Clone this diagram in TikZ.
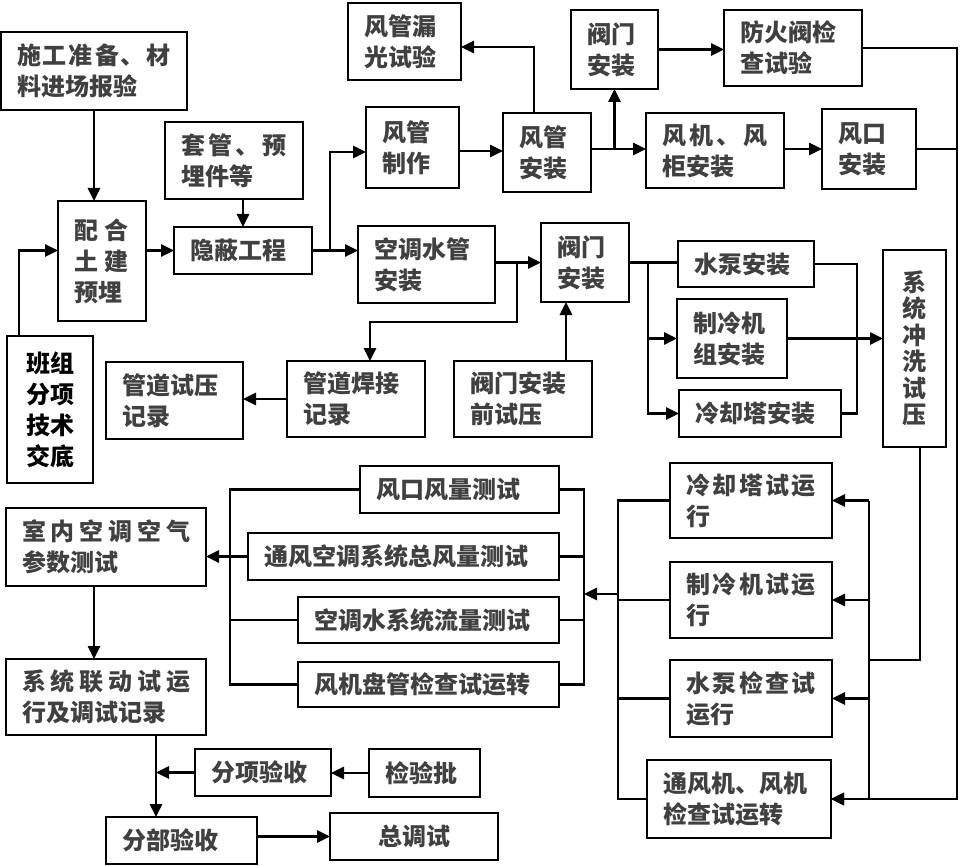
\documentclass[tikz,border=0pt]{standalone}
\usepackage{fontspec}
\newfontfamily\cjk{Noto Sans CJK SC}
\usetikzlibrary{arrows.meta}
\definecolor{tc}{RGB}{64,64,64}
\tikzset{
 box/.style={draw=black, line width=2.6pt, fill=white, inner xsep=16pt, inner ysep=0pt, outer sep=0pt, align=left, font=\cjk\bfseries\fontsize{24}{31}\selectfont, text=tc},
 ln/.style={line width=2.6pt},
 arr/.style={ln, -{Triangle[length=13pt,width=12pt]}},
}
\newcommand\bx[7][]{%
 \pgfmathsetmacro\bw{#5-#3}\pgfmathsetmacro\bh{#6-#4}\pgfmathsetmacro\tw{#5-#3-32}%
 \node[box, minimum width=\bw pt, minimum height=\bh pt, text width=\tw pt, #1] (#2) at ({(#3+#5)/2},{(#4+#6)/2}) {#7};}
\begin{document}
\begin{tikzpicture}[x=1pt,y=-1pt]
\useasboundingbox[fill=white] (0,0) rectangle (960,866);
% boxes
\bx{prep}{1}{32}{187}{110}{施\hfill{}工\hfill{}准\hfill{}备\hfill{}、\hfill{}材\\料进场报验}
\bx{leak}{348}{3}{461}{80}{风管漏\\光试验}
\bx{make}{366}{107}{459}{188}{风管\\制作}
\bx{sleeve}{165}{122}{303}{199}{套\hfill{}管\hfill{}、\hfill{}预\\埋件等}
\bx{civil}{58}{201}{146}{321}{配\hspace{6pt}合\\土\hspace{6pt}建\\预埋}
\bx{hidden}{174}{227}{312}{274}{隐蔽工程}
\bx{wpipe}{358}{226}{495}{303}{空调水管\\安装}
\bx{valve1}{571}{10}{658}{89}{阀门\\安装}
\bx{fire}{724}{10}{862}{86}{防火阀检\\查试验}
\bx{duct}{503}{113}{591}{192}{风管\\安装}
\bx{fan}{646}{113}{784}{188}{风\hfill{}机\hfill{}、\hfill{}风\\柜安装}
\bx{outlet}{822}{109}{916}{189}{风口\\安装}
\bx{valve2}{541}{223}{629}{302}{阀门\\安装}
\bx{pump}{678}{241}{814}{287}{水泵安装}
\bx{chiller}{677}{299}{787}{378}{制冷机\\组安装}
\bx{tower}{679}{390}{841}{437}{冷却塔安装}
\bx[align=center,font=\cjk\bfseries\fontsize{24}{26.5}\selectfont]{flush}{883}{250}{946}{447}{系\\统\\冲\\洗\\试\\压}
\bx[align=center,text=black]{team}{7}{336}{93}{483}{班组\\分项\\技术\\交底}
\bx{presrec}{106}{362}{243}{439}{管道试压\\记录}
\bx{weld}{287}{361}{425}{437}{管道焊接\\记录}
\bx{vtest}{454}{361}{592}{437}{阀门安装\\前试压}
\bx{ttower}{670}{463}{832}{538}{冷\hfill{}却\hfill{}塔\hfill{}试\hfill{}运\\行}
\bx{tchill}{670}{562}{832}{638}{制\hfill{}冷\hfill{}机\hfill{}试\hfill{}运\\行}
\bx{tpump}{670}{660}{832}{737}{水\hfill{}泵\hfill{}检\hfill{}查\hfill{}试\\运行}
\bx{tfan}{647}{760}{831}{838}{通风机、风机\\检查试运转}
\bx{mA}{360}{466}{559}{513}{风口风量测试}
\bx{mB}{248}{533}{559}{580}{通风空调系统总风量测试}
\bx{mC}{298}{597}{559}{643}{空调水系统流量测试}
\bx{mD}{298}{662}{559}{707}{风机盘管检查试运转}
\bx{indoor}{6}{508}{206}{586}{室\hfill{}内\hfill{}空\hfill{}调\hfill{}空\hfill{}气\\参数测试}
\bx{linkage}{6}{659}{206}{735}{系\hfill{}统\hfill{}联\hfill{}动\hfill{}试\hfill{}运\\行及调试记录}
\bx{subitem}{195}{749}{331}{796}{分项验收}
\bx{batch}{369}{749}{480}{797}{检验批}
\bx{divacc}{106}{817}{257}{864}{分部验收}
\bx[align=center]{final}{330}{813}{498}{860}{总调试}
% helper coordinates
\coordinate (xA) at (19,0);
\coordinate (j1) at (330,0);
\coordinate (yMake) at (0,152);
\coordinate (yDuct) at (0,151);
\coordinate (j3) at (534,47);
\coordinate (yFan) at (0,149);
\coordinate (rbus) at (957,0);
\coordinate (wj) at (517,0);
\coordinate (wy) at (0,322);
\coordinate (weldx) at (370,0);
\coordinate (vtx) at (566,0);
\coordinate (vj) at (648,0);
\coordinate (pj) at (857,0);
\coordinate (fb) at (920,0);
\coordinate (fy) at (0,660);
\coordinate (tb) at (869,0);
\coordinate (lb) at (618,0);
\coordinate (ly) at (0,594);
\coordinate (mb) at (584,0);
\coordinate (ml) at (230,0);
\coordinate (ix) at (94,0);
\coordinate (lx) at (156,0);
% connectors
\draw[arr] (prep.south) -- (prep.south |- civil.north);
\draw[arr] (sleeve.south -| hidden.north) -- (hidden.north);
\draw[arr] (civil.east |- hidden.west) -- (hidden.west);
\draw[arr] (team.north -| xA) |- (civil.west |- hidden.west);
\draw[ln] (hidden.east) -- (hidden.east -| j1);
\draw[arr] (hidden.east -| j1) -- (hidden.east -| wpipe.west);
\draw[arr] (hidden.east -| j1) |- (make.west |- yMake);
\draw[arr] (make.east |- yDuct) -- (duct.west |- yDuct);
\draw[arr] (duct.north -| j3) |- (leak.east |- j3);
\draw[arr] (duct.east |- yFan) -- (fan.west |- yFan);
\draw[arr] (valve1.south |- yFan) -- (valve1.south);
\draw[arr] (valve1.east) -- (valve1.east -| fire.west);
\draw[arr] (fan.east |- outlet.west) -- (outlet.west);
\draw[arr] (fire.east) -| (rbus |- tfan.east) -- (tfan.east);
\draw[ln] (outlet.east) -- (outlet.east -| rbus);
\draw[arr] (wpipe.east |- valve2.west) -- (valve2.west);
\draw[arr] (valve2.west -| wj) |- (wy -| weldx) -- (weld.north -| weldx);
\draw[arr] (weld.west) -- (weld.west -| presrec.east);
\draw[arr] (vtest.north -| vtx) -- (valve2.south -| vtx);
\draw[ln] (valve2.east) -- (valve2.east -| pump.west);
\draw[arr] (valve2.east -| vj) |- (tower.west);
\draw[arr] (chiller.west -| vj) -- (chiller.west);
\draw[ln] (pump.east) -| (tower.east -| pj) -- (tower.east);
\draw[arr] (chiller.east) -- (chiller.east -| flush.west);
\draw[ln] (flush.south -| fb) |- (fy -| tb);
\draw[ln] (ttower.east -| tb) -- (tfan.east -| tb);
\foreach \n in {ttower,tchill,tpump,tfan} \draw[arr] (\n.east -| tb) -- (\n.east);
\draw[ln] (ttower.west) -| (tfan.west -| lb) -- (tfan.west);
\draw[ln] (tchill.west) -- (tchill.west -| lb);
\draw[ln] (tpump.west) -- (tpump.west -| lb);
\draw[arr] (ly -| lb) -- (ly -| mb);
\draw[ln] (mA.east) -| (mD.east -| mb) -- (mD.east);
\draw[ln] (mB.east) -- (mB.east -| mb);
\draw[ln] (mC.east) -- (mC.east -| mb);
\draw[ln] (mA.west) -| (mD.west -| ml) -- (mD.west);
\draw[ln] (mC.west) -- (mC.west -| ml);
\draw[arr] (mB.west) -- (mB.west -| indoor.east);
\draw[arr] (indoor.south -| ix) -- (linkage.north -| ix);
\draw[arr] (linkage.south -| lx) -- (divacc.north -| lx);
\draw[arr] (subitem.west) -- (subitem.west -| lx);
\draw[arr] (batch.west) -- (batch.west -| subitem.east);
\draw[arr] (divacc.east |- final.west) -- (final.west);
\end{tikzpicture}
\end{document}
